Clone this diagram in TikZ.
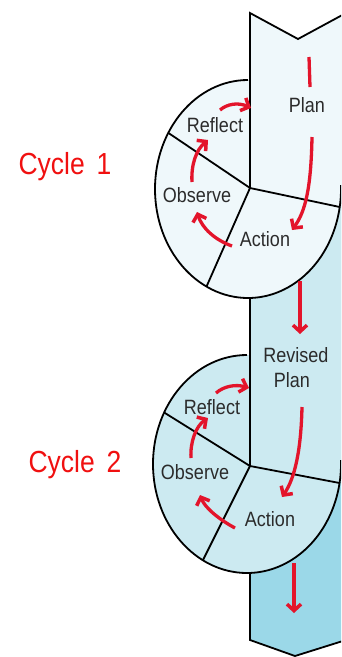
\documentclass[tikz,border=0pt]{standalone}
\usepackage{fontspec}
\setmainfont{Liberation Sans}
\usetikzlibrary{arrows.meta}
\definecolor{pale}{HTML}{EFF8FB}
\definecolor{lightb}{HTML}{CCEAF1}
\definecolor{darkb}{HTML}{9BD8E8}
\definecolor{arrred}{HTML}{E3142B}
\definecolor{cycred}{HTML}{F01010}
\definecolor{txt}{HTML}{2B2B2B}
\newcommand{\tl}[1]{\scalebox{1}[1.15]{#1}}
\begin{document}
\begin{tikzpicture}[x=1pt,y=-1pt,
  outline/.style={draw=black,line width=1.8pt,line join=miter},
  lab/.style={text=txt,font=\fontsize{18}{20}\selectfont,inner sep=0pt},
  cyc/.style={text=cycred,font=\fontsize{26.5}{30}\selectfont,inner sep=0pt},
  rarrow/.style={draw=arrred,line width=3.3pt,-{Straight Barb[length=6.5pt,width=14pt,line width=3.5pt]}},
  rline/.style={draw=arrred,line width=3.3pt}]
\useasboundingbox (0,0) rectangle (341,657);
\begin{scope}
\clip (0,0) rectangle (341,657);
% fills
\path[fill=darkb] (250,13) -- (298,39) -- (346,13) -- (346,640) -- (295,656) -- (250,640) -- cycle;
\path[fill=lightb] (247,464) ellipse [x radius=94pt, y radius=109pt];
\path[fill=lightb] (250,13) -- (298,39) -- (346,13) -- (346,464) -- (250,464) -- cycle;
\path[fill=pale] (248,189) ellipse [x radius=93pt, y radius=109pt];
\path[fill=pale] (250,13) -- (298,39) -- (346,13) -- (346,189) -- (250,189) -- cycle;
% radial lines
\begin{scope}
\clip (248,189) ellipse [x radius=93pt, y radius=109pt];
\draw[outline] (127,105) -- (250,188) -- (387,217);
\draw[outline] (250,188) -- (186,333);
\end{scope}
\begin{scope}
\clip (247,464) ellipse [x radius=94pt, y radius=109pt];
\draw[outline] (120,385) -- (250,466) -- (387,492);
\draw[outline] (250,466) -- (183,600);
\end{scope}
% ellipse outlines
\draw[outline] (248,80) arc[start angle=90, end angle=362, x radius=93pt, y radius=109pt];
\draw[outline] (247,355) arc[start angle=90, end angle=362, x radius=94pt, y radius=109pt];
% column outline
\draw[outline] (250,188) -- (250,13) -- (298,39) -- (346,13);
\draw[outline] (250,297) -- (250,466);
\draw[outline] (250,572) -- (250,640) -- (295,656) -- (346,640);
\end{scope}
% labels
\node[lab] (plan1) at (307,105) {\tl{Plan}};
\node[lab] (act1) at (265,239) {\tl{Action}};
\node[lab] (obs1) at (197,195) {\tl{Observe}};
\node[lab] (ref1) at (215,125) {\tl{Reflect}};
\node[lab] (rev) at (296,355) {\tl{Revised}};
\node[lab] (plan2) at (292,380) {\tl{Plan}};
\node[lab] (act2) at (270,519) {\tl{Action}};
\node[lab] (obs2) at (195,472) {\tl{Observe}};
\node[lab] (ref2) at (212,407) {\tl{Reflect}};
\node[cyc] (c1) at (65,167) {\tl{Cycle\hspace{0.45em}1}};
\node[cyc] (c2) at (75,465) {\tl{Cycle\hspace{0.45em}2}};
% arrow coordinates
\coordinate (d1) at (309,57); \coordinate (d2) at (310,87);
\coordinate (a1s) at (312,137); \coordinate (a1e) at (292,230);
\coordinate (b1s) at (232,246); \coordinate (b1e) at (197,212);
\coordinate (o1s) at (192,182); \coordinate (o1e) at (208,140);
\coordinate (r1s) at (220,110); \coordinate (r1e) at (251,108);
\coordinate (m1s) at (300,281); \coordinate (m1e) at (300,334);
\coordinate (a2s) at (302,407); \coordinate (a2e) at (282,497);
\coordinate (b2s) at (235,528); \coordinate (b2e) at (200,495);
\coordinate (o2s) at (191,458); \coordinate (o2e) at (208,418);
\coordinate (r2s) at (216,393); \coordinate (r2e) at (249,388);
\coordinate (m2s) at (294,563); \coordinate (m2e) at (294,613);
% red arrows
\draw[rline] (d1) -- (d2);
\draw[rarrow] (a1s) .. controls (311,190) and (305,212) .. (a1e);
\draw[rarrow] (b1s) .. controls (215,240) and (202,228) .. (b1e);
\draw[rarrow] (o1s) .. controls (191,165) and (196,150) .. (o1e);
\draw[rarrow] (r1s) .. controls (227,104) and (238,102) .. (r1e);
\draw[rarrow] (m1s) -- (m1e);
\draw[rarrow] (a2s) .. controls (301,450) and (295,478) .. (a2e);
\draw[rarrow] (b2s) .. controls (220,520) and (205,508) .. (b2e);
\draw[rarrow] (o2s) .. controls (190,442) and (196,426) .. (o2e);
\draw[rarrow] (r2s) .. controls (224,386) and (236,384) .. (r2e);
\draw[rarrow] (m2s) -- (m2e);
\end{tikzpicture}
\end{document}
